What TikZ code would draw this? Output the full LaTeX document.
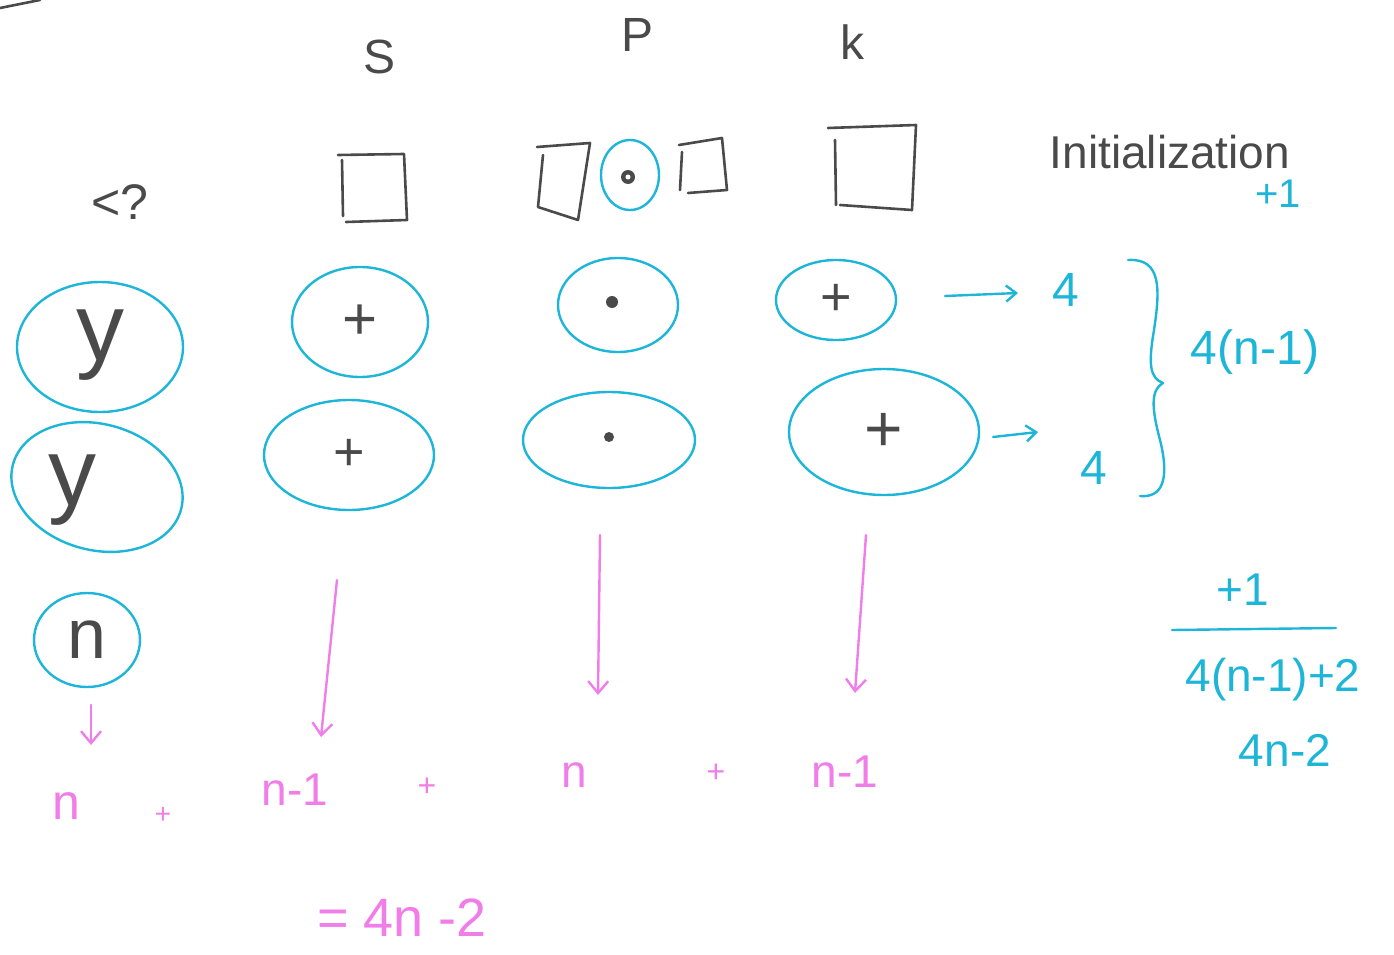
\documentclass[tikz,border=0pt]{standalone}
\usepackage{fontspec}
\setmainfont{Liberation Sans}
\usetikzlibrary{arrows.meta,shapes.geometric}
\definecolor{ink}{HTML}{4A4A4A}
\definecolor{cyanink}{HTML}{1DB6D8}
\definecolor{pinkink}{HTML}{F07DE8}
\newcommand{\fsz}[1]{\fontsize{#1}{#1}\selectfont}

\begin{document}
\begin{tikzpicture}[x=1pt,y=-1pt,
  graystroke/.style={draw=ink, line width=2.6pt, line cap=round, line join=round},
  cyanstroke/.style={draw=cyanink, line width=2.4pt, line cap=round, line join=round},
  pinkstroke/.style={draw=pinkink, line width=2.4pt, line cap=round, line join=round},
  oval/.style={ellipse, draw=cyanink, line width=2.4pt, inner sep=0pt, text=ink},
  graytxt/.style={text=ink, inner sep=0pt},
  cyantxt/.style={text=cyanink, inner sep=0pt},
  pinktxt/.style={text=pinkink, inner sep=0pt},
  dotmark/.style={circle, fill=ink, inner sep=0pt, minimum size=#1},
  cyanarrow/.style={cyanstroke, -{Straight Barb[length=10pt,width=16pt,line width=2.4pt]}},
  pinkarrow/.style={pinkstroke, -{Straight Barb[length=12pt,width=20pt,line width=2.4pt]}}]
\useasboundingbox (0,0) rectangle (1394,955);

% stray stroke in the corner
\draw[graystroke] (0,8) -- (40,0);

% column headings
\node[graytxt, font=\fsz{48}] (hS) at (380,57) {S};
\node[graytxt, font=\fsz{48}] (hP) at (637,35) {P};
\node[graytxt, font=\fsz{48}] (hK) at (852,42) {k};
\node[graytxt, font=\fsz{50}] (hQ) at (120,202) {<?};

% empty boxes under the headings
\draw[graystroke] (342,160) -- (343,216);
\draw[graystroke] (338,155) -- (404,154) -- (407,220) -- (346,222);
\draw[graystroke] (543,155) -- (538,207) -- (578,220) -- (590,143) -- (537,147);
\draw[graystroke] (682,152) -- (680,190);
\draw[graystroke] (679,145) -- (722,138) -- (727,190) -- (688,193);
\draw[graystroke] (835,140) -- (836,205);
\draw[graystroke] (828,128) -- (916,125) -- (912,210) -- (840,205);
\node[oval, minimum width=58pt, minimum height=70pt] (pTop) at (630,175) {};
\node[dotmark=14pt] (pTopDot) at (628,177) {};
\fill[white] (pTopDot) circle (2.5pt);

% initialization note
\node[graytxt, font=\fsz{46}] (init) at (1170,152) {Initialization};
\node[cyantxt, font=\fsz{40}] (initPlus) at (1278,194) {+1};

% first row of ovals
\node[oval, minimum width=166pt, minimum height=130pt] (yA) at (100,347) {};
\node[graytxt, font=\fsz{96}] (yAtxt) at (100,345) {y};
\node[oval, minimum width=136pt, minimum height=110pt, font=\fsz{60}] (sA) at (360,322) {+};
\node[oval, minimum width=120pt, minimum height=94pt] (pA) at (618,305) {};
\node[dotmark=12pt] (pAdot) at (612,302) {};
\node[oval, minimum width=120pt, minimum height=80pt, font=\fsz{54}] (kA) at (836,300) {+};

% second row of ovals
\node[oval, rotate=-15, minimum width=174pt, minimum height=126pt] (yB) at (97,487) {};
\node[graytxt, font=\fsz{96}] (yBtxt) at (72,490) {y};
\node[oval, minimum width=170pt, minimum height=110pt, font=\fsz{54}] (sB) at (349,455) {+};
\node[oval, minimum width=172pt, minimum height=96pt] (pB) at (609,440) {};
\node[dotmark=10pt] (pBdot) at (609,437) {};
\node[oval, minimum width=190pt, minimum height=126pt, font=\fsz{66}] (kB) at (884,432) {+};

% the n oval
\node[oval, minimum width=106pt, minimum height=94pt, font=\fsz{70}] (nC) at (87,640) {n};

% counts for the k column
\node[cyantxt, font=\fsz{48}] (fourA) at (1066,290) {4};
\node[cyantxt, font=\fsz{48}] (fourB) at (1094,468) {4};
\coordinate (kAstart) at (945,296);
\coordinate (kAend) at (1018,293);
\coordinate (kBstart) at (993,437);
\coordinate (kBend) at (1038,432);
\draw[cyanarrow] (kAstart) -- (kAend);
\draw[cyanarrow] (kBstart) -- (kBend);

% brace and its total
\draw[cyanstroke] (1128,260) .. controls (1162,258) and (1160,290) .. (1154,330)
  .. controls (1148,365) and (1150,378) .. (1163,383)
  .. controls (1150,390) and (1152,410) .. (1160,440)
  .. controls (1170,480) and (1162,498) .. (1140,496);
\node[cyantxt, font=\fsz{48}] (total) at (1255,352) {4(n-1)};

% the sum on the right
\node[cyantxt, font=\fsz{46}] (plusOne) at (1243,590) {+1};
\coordinate (barL) at (1172,630);
\coordinate (barR) at (1336,628);
\draw[cyanstroke] (barL) -- (barR);
\node[cyantxt, font=\fsz{46}] (sumA) at (1273,680) {4(n-1)+2};
\node[cyantxt, font=\fsz{46}] (sumB) at (1285,750) {4n-2};

% contributions of each column
\node[pinktxt, font=\fsz{50}] (cN) at (66,806) {n};
\node[pinktxt, font=\fsz{28}] (p1) at (163,815) {+};
\node[pinktxt, font=\fsz{46}] (cS) at (295,790) {n-1};
\node[pinktxt, font=\fsz{32}] (p2) at (427,787) {+};
\node[pinktxt, font=\fsz{46}] (cP) at (574,775) {n};
\node[pinktxt, font=\fsz{32}] (p3) at (716,773) {+};
\node[pinktxt, font=\fsz{46}] (cK) at (845,772) {n-1};
\node[pinktxt, font=\fsz{54}] (total2) at (402,918) {= 4n -2};

\coordinate (aN1) at (91,705);  \coordinate (aN2) at (91,745);
\coordinate (aS1) at (337,580); \coordinate (aS2) at (321,737);
\coordinate (aP1) at (600,535); \coordinate (aP2) at (598,695);
\coordinate (aK1) at (866,535); \coordinate (aK2) at (855,693);
\draw[pinkarrow] (aN1) -- (aN2);
\draw[pinkarrow] (aS1) -- (aS2);
\draw[pinkarrow] (aP1) -- (aP2);
\draw[pinkarrow] (aK1) -- (aK2);
\end{tikzpicture}
\end{document}
